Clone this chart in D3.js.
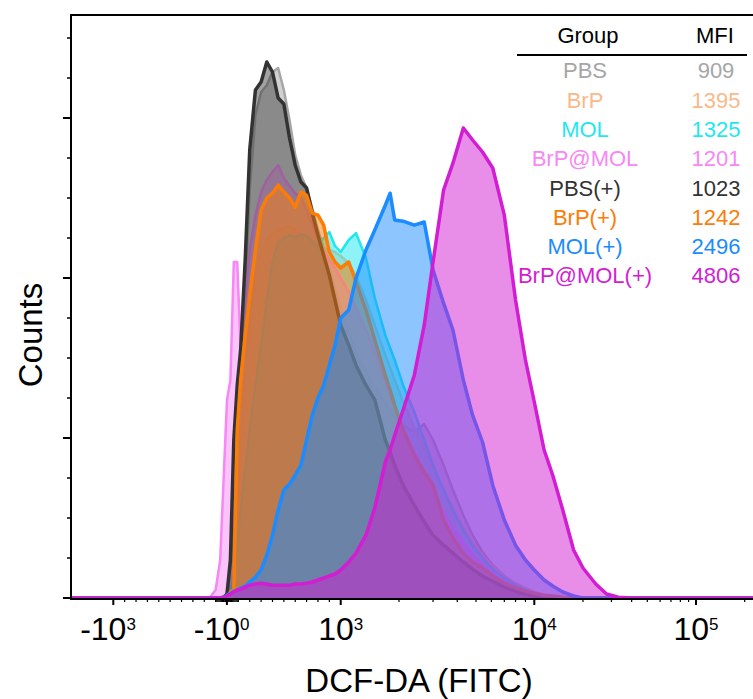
<!DOCTYPE html>
<html>
<head>
<meta charset="utf-8">
<script src="https://cdn.jsdelivr.net/npm/d3@7"></script>
<style>
  body { margin: 0; background: #fff; }
  svg { display: block; font-family: Arial, "Liberation Sans", Helvetica, sans-serif; }
</style>
</head>
<body>
<div id="chart"></div>
<script>
// --- Data (DCF-DA / FITC fluorescence bins, counts per bin) ---
const bins = [-1500, -200, -150, -100, -60, -30,
  0, 30, 60, 90, 120, 160, 200,
  250, 300, 350, 400, 450, 500, 550, 600, 650, 700, 750, 800, 850, 900, 950, 1000,
  1100, 1200, 1350, 1500, 1700, 1800, 1900, 2100, 2400, 2700, 3000, 3400, 3800, 4300, 4800, 5400, 6100, 7000, 8000, 9000, 10000,
  11500, 13000, 15000, 17500, 20000, 24000, 28000, 33000, 40000, 50000, 300000];

const pbs = [0, 0, 0, 0, 0, 0,
  2, 32, 170, 395, 545, 770, 1020,
  1207, 1265, 1282, 1315, 1325, 1270, 1195, 1107, 1057, 1025, 975, 920, 875, 825, 775, 725,
  662, 615, 565, 525, 487, 470, 452, 432, 415, 435, 395, 332, 270, 207, 157, 115, 82, 55, 35, 22, 12,
  5, 2, 0, 0, 0, 0, 0, 0, 0, 0, 0];

const brp = [0, 0, 0, 0, 0, 0,
  2, 20, 95, 232, 382, 557, 700,
  807, 865, 895, 910, 920, 925, 930, 920, 907, 900, 887, 870, 875, 870, 865, 855,
  837, 805, 745, 682, 607, 575, 545, 490, 425, 370, 325, 270, 225, 177, 140, 107, 80, 55, 37, 25, 15,
  7, 3, 1, 0, 0, 0, 0, 0, 0, 0, 0];

const mol = [0, 0, 0, 0, 0, 0,
  2, 12, 57, 132, 220, 320, 420,
  532, 632, 745, 840, 890, 900, 907, 902, 910, 905, 892, 880, 900, 915, 880, 865,
  895, 912, 850, 750, 657, 625, 595, 532, 465, 395, 332, 270, 220, 170, 132, 100, 72, 50, 32, 20, 12,
  5, 2, 0, 0, 0, 0, 0, 0, 0, 0, 0];

const brpMol = [0, 0, 2, 20, 95, 295,
  495, 545, 840, 840, 620, 745, 870,
  957, 1015, 1045, 1065, 1082, 1050, 1030, 1012, 1000, 970, 935, 900, 870, 845, 825, 800,
  765, 725, 670, 615, 540, 507, 475, 425, 365, 315, 265, 215, 175, 137, 107, 82, 60, 42, 27, 17, 10,
  5, 2, 0, 0, 0, 0, 0, 0, 0, 0, 0];

const pbsPlus = [0, 0, 0, 0, 0, 2,
  10, 95, 395, 532, 620, 845, 1120,
  1270, 1290, 1340, 1315, 1250, 1235, 1150, 1082, 1040, 1025, 962, 907, 857, 807, 745, 682,
  632, 582, 532, 495, 395, 365, 332, 282, 232, 190, 157, 132, 112, 90, 72, 55, 42, 27, 17, 10, 5,
  2, 0, 0, 0, 0, 0, 0, 0, 0, 0, 0];

const brpPlus = [0, 0, 0, 0, 0, 0,
  2, 15, 20, 420, 545, 657, 757,
  870, 970, 1000, 1012, 1032, 1015, 1000, 977, 1015, 1007, 962, 957, 932, 865, 840, 825,
  840, 790, 720, 645, 557, 520, 482, 420, 357, 315, 282, 195, 150, 112, 90, 75, 55, 37, 25, 17, 12,
  7, 5, 2, 1, 0, 0, 0, 0, 0, 0, 0];

const molPlus = [0, 0, 0, 0, 0, 2,
  7, 12, 17, 20, 25, 30, 40,
  52, 70, 107, 157, 220, 270, 285, 307, 332, 395, 457, 500, 532, 582, 632, 700,
  720, 800, 870, 920, 982, 1012, 945, 942, 932, 940, 820, 737, 670, 545, 457, 390, 282, 195, 132, 95, 70,
  45, 30, 15, 5, 0, 0, 0, 0, 0, 0, 0];

const brpMolPlus = [0, 0, 0, 0, 0, 1,
  5, 10, 15, 20, 22, 27, 32,
  35, 37, 35, 32, 32, 32, 32, 35, 35, 37, 40, 45, 50, 55, 60, 70,
  90, 112, 157, 225, 340, 370, 407, 470, 557, 682, 840, 1020, 1087, 1175, 1145, 1115, 1075, 957, 745, 595, 490,
  370, 307, 220, 120, 75, 35, 10, 2, 0, 0, 0];

const groups = ["PBS", "BrP", "MOL", "BrP@MOL", "PBS(+)", "BrP(+)", "MOL(+)", "BrP@MOL(+)"];
const mfi = [909, 1395, 1325, 1201, 1023, 1242, 2496, 4806];
const colors = ["#a6a6a6", "#f9b98a", "#1ee8ee", "#f687f4", "#333333", "#fb7d07", "#1a8cff", "#d21ed2"];
const series = [pbs, brp, mol, brpMol, pbsPlus, brpPlus, molPlus, brpMolPlus];

// axis ticks (values)
const majorTicks = [-1000, -1, 1000, 10000, 100000];
const majorLabels = [["-10", "3"], ["-10", "0"], ["10", "3"], ["10", "4"], ["10", "5"]];
const minorTicks = [].concat(
  d3.range(-900, -99, 100), d3.range(-90, -9, 10), d3.range(-9, -1, 1),
  d3.range(2, 10, 1), d3.range(10, 100, 10), d3.range(100, 1000, 100),
  d3.range(2000, 10000, 1000), d3.range(20000, 100000, 10000), [200000]
);

// --- Chart Dimensions ---
const width = 753;
const height = 699;
const plot = { left: 71, right: 753, top: 15, bottom: 598 };

const svg = d3.select("#chart").append("svg")
  .attr("width", width)
  .attr("height", height);

// biexponential-like display: linear around zero, log decades above 10^3
const decade = (v) =>
  v <= 1000 ? v / 1000 : v <= 10000 ? 1 + Math.log10(v / 1000) : 2 + Math.log10(v / 10000);
const xPos = d3.scaleLinear().domain([-1, 0, 1, 2, 3]).range([113.3, 227, 340.7, 534.3, 696]);
const x = (v) => xPos(decade(v));

const y = d3.scaleLinear().domain([0, 1457.5]).range([plot.bottom, plot.top]);

svg.append("clipPath").attr("id", "clip")
  .append("rect")
  .attr("x", plot.left).attr("y", plot.top)
  .attr("width", plot.right - plot.left).attr("height", plot.bottom - plot.top + 3);

const area = d3.area()
  .x((d, i) => x(bins[i]))
  .y0(y(0))
  .y1((d) => y(d));
const line = d3.line()
  .x((d, i) => x(bins[i]))
  .y((d) => y(d));

const g = svg.append("g").attr("clip-path", "url(#clip)");

series.forEach((s, k) => {
  g.append("path")
    .datum(s)
    .attr("d", area)
    .attr("fill", colors[k])
    .attr("fill-opacity", k === 4 ? 0.45 : 0.5);
  g.append("path")
    .datum(s)
    .attr("d", line)
    .attr("fill", "none")
    .attr("stroke", colors[k])
    .attr("stroke-width", k >= 4 ? 3.5 : 2.5)
    .attr("stroke-linejoin", "round");
});

// --- Frame ---
const frame = svg.append("g").attr("stroke", "#000").attr("fill", "none");
frame.append("line")
  .attr("x1", plot.left).attr("x2", plot.left)
  .attr("y1", plot.top - 1).attr("y2", plot.bottom + 2)
  .attr("stroke-width", 2);
frame.append("line")
  .attr("x1", plot.left).attr("x2", plot.right)
  .attr("y1", plot.top).attr("y2", plot.top)
  .attr("stroke-width", 2);
frame.append("line")
  .attr("x1", plot.left).attr("x2", plot.right)
  .attr("y1", plot.bottom + 1).attr("y2", plot.bottom + 1)
  .attr("stroke-width", 2);

// --- Y ticks ---
const yTicks = d3.range(0, 1457, 100);
frame.selectAll(".yt").data(yTicks).join("line")
  .attr("x1", (d) => (d % 400 === 0 ? plot.left - 8 : plot.left - 4))
  .attr("x2", plot.left)
  .attr("y1", (d) => y(d)).attr("y2", (d) => y(d))
  .attr("stroke-width", (d) => (d % 400 === 0 ? 2 : 1.5));

// --- X ticks ---
frame.selectAll(".xm").data(minorTicks).join("line")
  .attr("x1", (d) => x(d)).attr("x2", (d) => x(d))
  .attr("y1", plot.bottom + 1).attr("y2", plot.bottom + 4)
  .attr("stroke-width", 1.2);
frame.selectAll(".xM").data(majorTicks).join("line")
  .attr("x1", (d) => x(d)).attr("x2", (d) => x(d))
  .attr("y1", plot.bottom + 1).attr("y2", plot.bottom + 7)
  .attr("stroke-width", 2);

const labels = svg.selectAll(".xl").data(majorTicks).join("text")
  .attr("x", (d) => x(d))
  .attr("y", 640)
  .attr("dx", (d) => (d < 0 ? -5.3 : 0))
  .attr("text-anchor", "middle")
  .attr("font-size", 32)
  .attr("fill", "#000");
labels.append("tspan").text((d, i) => majorLabels[i][0]);
labels.append("tspan")
  .attr("dy", -10)
  .attr("font-size", 17)
  .text((d, i) => majorLabels[i][1]);

// --- Axis titles ---
svg.append("text")
  .attr("x", 419).attr("y", 692)
  .attr("text-anchor", "middle")
  .attr("font-size", 33)
  .text("DCF-DA (FITC)");

svg.append("text")
  .attr("transform", "translate(42,335) rotate(-90)")
  .attr("text-anchor", "middle")
  .attr("font-size", 33)
  .text("Counts");

// --- Legend table ---
const legend = svg.append("g").attr("font-size", 22);
legend.append("text").attr("x", 588).attr("y", 43).attr("text-anchor", "middle").text("Group");
legend.append("text").attr("x", 715).attr("y", 43).attr("text-anchor", "middle").text("MFI");
legend.append("line")
  .attr("x1", 517).attr("x2", 747).attr("y1", 55).attr("y2", 55)
  .attr("stroke", "#000").attr("stroke-width", 2);

legend.selectAll(".gn").data(groups).join("text")
  .attr("x", 585)
  .attr("y", (d, i) => 78.3 + i * 29.3)
  .attr("text-anchor", "middle")
  .attr("fill", (d, i) => colors[i])
  .text((d) => d);
legend.selectAll(".mv").data(mfi).join("text")
  .attr("x", 716)
  .attr("y", (d, i) => 78.3 + i * 29.3)
  .attr("text-anchor", "middle")
  .attr("fill", (d, i) => colors[i])
  .text((d) => d);
</script>
</body>
</html>
